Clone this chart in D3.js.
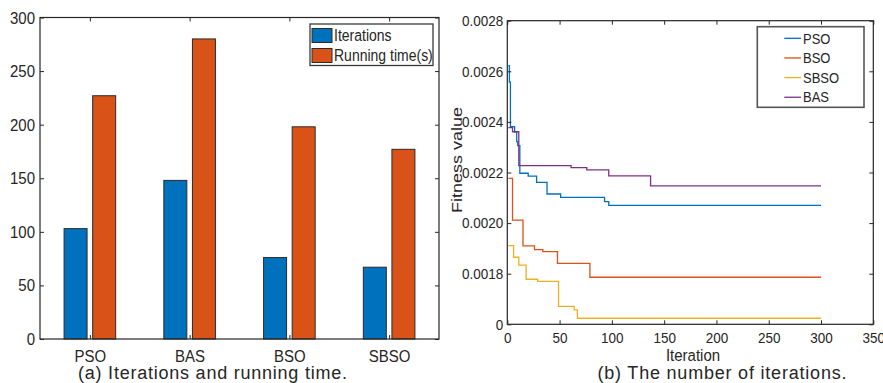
<!DOCTYPE html>
<html><head><meta charset="utf-8">
<script src="https://cdn.jsdelivr.net/npm/d3@7"></script>
<style>
body{margin:0;background:#fff}
text{font-family:"Liberation Sans",Arial,Helvetica,sans-serif;fill:#262626}
</style>
</head><body>
<svg id="c" width="883" height="383"></svg>
<script>
// ---------- data: bar chart (a) ----------
const categories = ["PSO", "BAS", "BSO", "SBSO"];
const barSeries = ["Iterations", "Running time(s)"];
const iterations = [103, 148, 76, 67];
const runningTime = [227, 280, 198, 177];
const barYTicks = [0, 50, 100, 150, 200, 250, 300];
const barColors = ["#0072BD", "#D95319"];

// ---------- data: convergence chart (b) ----------
const lineSeries = ["PSO", "BSO", "SBSO", "BAS"];
const lineColors = ["#0072BD", "#D95319", "#EDB120", "#7E2F8E"];
// [iteration, fitness] at each step change
const psoSteps = [[1,0.002622],[2,0.002557],[3,0.002381],[7,0.002361],[9,0.002322],[10,0.002306],[12,0.002197],[20,0.002186],[28,0.002161],[38,0.002115],[51,0.002102],[93,0.002085],[97,0.00207],[300,0.00207]];
const bsoSteps = [[1,0.002177],[5,0.002012],[15,0.00191],[26,0.001895],[34,0.001887],[48,0.001841],[79,0.001786],[300,0.001786]];
const sbsoSteps = [[1,0.001911],[6,0.001865],[11,0.001834],[18,0.001778],[29,0.00177],[49,0.001671],[64,0.001657],[67,0.001624],[300,0.001624]];
const basSteps = [[1,0.002377],[5,0.002361],[11,0.002227],[61,0.002219],[76,0.00221],[97,0.002187],[137,0.002147],[300,0.002147]];
const fitTickValues = [0.0016, 0.0018, 0.0020, 0.0022, 0.0024, 0.0026, 0.0028];
const fitTickLabels = ["0", "0.0018", "0.0020", "0.0022", "0.0024", "0.0026", "0.0028"];
const iterTicks = [0, 50, 100, 150, 200, 250, 300, 350];

const svg = d3.select("#c");
const ink = "#262626";

function addText(g, x, y, str, size, sy, anchor, rotate) {
  const t = g.append("text")
    .attr("transform", rotate
      ? `translate(${x},${y}) rotate(-90) scale(${sy},1)`
      : `translate(${x},${y}) scale(1,${sy})`)
    .attr("text-anchor", anchor || "start")
    .attr("dy", "0.35em")
    .style("font-size", size + "px")
    .text(str);
  return t;
}
function styleAxis(g, size, sy) {
  g.select(".domain").remove();
  g.selectAll(".tick line").attr("stroke", ink).attr("stroke-width", 1);
  g.selectAll(".tick text").style("font-size", size + "px").attr("fill", ink)
    .style("font-family", '"Liberation Sans",Arial,sans-serif')
    .attr("transform", `scale(1,${sy})`);
}

// ================= chart (a) =================
{
  const L = 40, R = 439, T = 17.5, B = 339;
  const x = d3.scalePoint().domain(categories).range([L, R]).padding(0.5);
  const y = d3.scaleLinear().domain([0, 300]).range([B, T]);
  const inner = d3.scaleBand().domain(barSeries).range([-25.8, 25.8]).paddingInner(0.196);
  const g = svg.append("g");
  const sy = 1.15;

  const rows = categories.map((c, i) => ({ c, vals: [iterations[i], runningTime[i]] }));
  const grp = g.selectAll("g.cat").data(rows).join("g").attr("class", "cat")
    .attr("transform", d => `translate(${x(d.c)},0)`);
  grp.selectAll("rect").data(d => d.vals.map((v, k) => ({ v, k })))
    .join("rect")
    .attr("x", d => inner(barSeries[d.k]))
    .attr("width", inner.bandwidth())
    .attr("y", d => y(d.v))
    .attr("height", d => y(0) - y(d.v))
    .attr("fill", d => barColors[d.k])
    .attr("stroke", "#2b2b2b").attr("stroke-width", 1);

  const ax = g.append("g").attr("transform", `translate(${L},0)`)
    .call(d3.axisLeft(y).tickValues(barYTicks).tickSizeInner(-4).tickSizeOuter(0).tickPadding(5));
  styleAxis(ax, 15, sy);
  const axr = g.append("g").attr("transform", `translate(${R},0)`)
    .call(d3.axisRight(y).tickValues(barYTicks).tickSizeInner(-4).tickSizeOuter(0).tickFormat(""));
  styleAxis(axr, 15, sy);
  const axb = g.append("g").attr("transform", `translate(0,${B})`)
    .call(d3.axisBottom(x).tickSizeInner(-4).tickSizeOuter(0).tickPadding(9));
  styleAxis(axb, 15, sy);
  const axt = g.append("g").attr("transform", `translate(0,${T})`)
    .call(d3.axisTop(x).tickSizeInner(-4).tickSizeOuter(0).tickFormat(""));
  styleAxis(axt, 15, sy);

  g.append("rect").attr("x", L).attr("y", T).attr("width", R - L).attr("height", B - T)
    .attr("fill", "none").attr("stroke", ink).attr("stroke-width", 1.2);

  // legend
  const lg = g.append("g");
  lg.append("rect").attr("x", 310).attr("y", 24).attr("width", 123).attr("height", 41.5)
    .attr("fill", "#fff").attr("stroke", "#3a3a3a").attr("stroke-width", 1.3);
  barSeries.forEach((s, k) => {
    const cy = 35.5 + k * 20;
    lg.append("rect").attr("x", 312).attr("y", cy - 7).attr("width", 20).attr("height", 14)
      .attr("fill", barColors[k]).attr("stroke", "#2b2b2b").attr("stroke-width", 1);
    addText(lg, 334, cy, s, 14, 1.12, "start");
  });

  const cap = addText(g, 212.5, 373, "(a) Iterations and running time.", 18, 1.0, "middle");
  cap.attr("textLength", 269).attr("lengthAdjust", "spacing");
}

// ================= chart (b) =================
{
  const L = 507.3, R = 873.3, T = 20.7, B = 324.3;
  const x = d3.scaleLinear().domain([0, 350]).range([L, R]);
  const y = d3.scaleLinear().domain([0.0016, 0.0028]).range([B, T]);
  const g = svg.append("g");
  const sy = 1.12;

  const seriesData = [psoSteps, bsoSteps, sbsoSteps, basSteps];
  const line = d3.line().x(d => x(d[0])).y(d => y(d[1])).curve(d3.curveStepAfter);
  // draw BAS under? keep legend order but paint order PSO, BSO, SBSO, BAS
  seriesData.forEach((d, k) => {
    g.append("path").attr("d", line(d)).attr("fill", "none")
      .attr("stroke", lineColors[k]).attr("stroke-width", 1.3);
  });

  const fmt = (d, i) => fitTickLabels[fitTickValues.indexOf(d)];
  const ax = g.append("g").attr("transform", `translate(${L},0)`)
    .call(d3.axisLeft(y).tickValues(fitTickValues).tickFormat(fmt).tickSizeInner(-4).tickSizeOuter(0).tickPadding(4));
  styleAxis(ax, 13.5, sy);
  const axr = g.append("g").attr("transform", `translate(${R},0)`)
    .call(d3.axisRight(y).tickValues(fitTickValues).tickSizeInner(-4).tickSizeOuter(0).tickFormat(""));
  styleAxis(axr, 13.5, sy);
  const axb = g.append("g").attr("transform", `translate(0,${B})`)
    .call(d3.axisBottom(x).tickValues(iterTicks).tickSizeInner(-4).tickSizeOuter(0).tickPadding(7));
  styleAxis(axb, 13.5, sy);
  const axt = g.append("g").attr("transform", `translate(0,${T})`)
    .call(d3.axisTop(x).tickValues(iterTicks).tickSizeInner(-4).tickSizeOuter(0).tickFormat(""));
  styleAxis(axt, 13.5, sy);

  g.append("rect").attr("x", L).attr("y", T).attr("width", R - L).attr("height", B - T)
    .attr("fill", "none").attr("stroke", ink).attr("stroke-width", 1.2);

  addText(g, 693, 355, "Iteration", 15, 1.1, "middle");
  addText(g, 457, 160, "Fitness value", 15, 1.2, "middle", true);

  // legend
  const lg = g.append("g");
  lg.append("rect").attr("x", 757.3).attr("y", 26.7).attr("width", 106.7).attr("height", 80.6)
    .attr("fill", "#fff").attr("stroke", "#555").attr("stroke-width", 1.6);
  lineSeries.forEach((s, k) => {
    const cy = 38.3 + k * 19.65;
    lg.append("line").attr("x1", 784.3).attr("x2", 801).attr("y1", cy).attr("y2", cy)
      .attr("stroke", lineColors[k]).attr("stroke-width", 1.3);
    addText(lg, 803, cy, s, 13, 1.15, "start");
  });

  const cap = addText(g, 722, 373, "(b) The number of iterations.", 18, 1.0, "middle");
  cap.attr("textLength", 249).attr("lengthAdjust", "spacing");
}
</script>
</body></html>
